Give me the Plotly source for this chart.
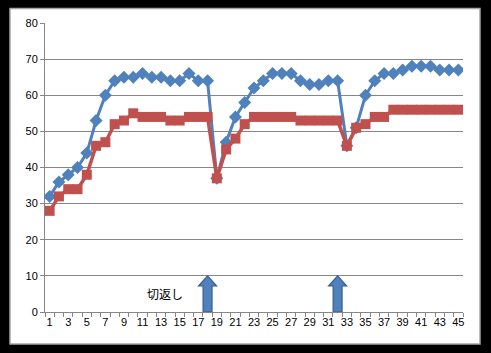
import plotly.graph_objects as go

categories = list(range(1, 46))
blue_values = [32, 36, 38, 40, 44, 53, 60, 64, 65, 65,
               66, 65, 65, 64, 64, 66, 64, 64, 37, 47,
               54, 58, 62, 64, 66, 66, 66, 64, 63, 63,
               64, 64, 46, 51, 60, 64, 66, 66, 67, 68,
               68, 68, 67, 67, 67]
red_values = [28, 32, 34, 34, 38, 46, 47, 52, 53, 55,
              54, 54, 54, 53, 53, 54, 54, 54, 37, 45,
              48, 52, 54, 54, 54, 54, 54, 53, 53, 53,
              53, 53, 46, 51, 52, 54, 54, 56, 56, 56,
              56, 56, 56, 56, 56]
tick_labels = [str(c) for c in categories[::2]]
arrow_x = [18, 32]
arrow_top = 10
note_text = "切返し"
note_x, note_y = 13.4, 5

W, H = 491, 353
ml, mr, mt, mb = 45, 28, 23, 41
pw, ph = W - ml - mr, H - mt - mb

fig = go.Figure()
fig.add_trace(go.Scatter(x=categories, y=blue_values, mode="lines+markers",
                         line=dict(color="#4F81BD", width=3),
                         marker=dict(symbol="diamond", size=10, color="#4F81BD"),
                         showlegend=False))
fig.add_trace(go.Scatter(x=categories, y=red_values, mode="lines+markers",
                         line=dict(color="#C0504D", width=3.5),
                         marker=dict(symbol="square", size=10, color="#C0504D"),
                         showlegend=False))

shapes = []
def px2paper_x(p):
    return (p - ml) / pw
def px2paper_y(p):
    return (H - mb - p) / ph
shapes.append(dict(type="rect", xref="paper", yref="paper", layer="below",
                   x0=px2paper_x(10), x1=px2paper_x(480),
                   y0=px2paper_y(344), y1=px2paper_y(8.5),
                   fillcolor="white", line=dict(color="#A6A6A6", width=1.5)))

head_hw, shaft_hw, head_h = 0.97, 0.48, 2.8
for ax in arrow_x:
    base = arrow_top - head_h
    path = (f"M {ax - shaft_hw} 0 L {ax - shaft_hw} {base} L {ax - head_hw} {base} "
            f"L {ax} {arrow_top} L {ax + head_hw} {base} L {ax + shaft_hw} {base} "
            f"L {ax + shaft_hw} 0 Z")
    shapes.append(dict(type="path", xref="x", yref="y", path=path,
                       fillcolor="#4F81BD", line=dict(color="#385D8A", width=1.2),
                       layer="above"))

fig.update_layout(
    width=W, height=H,
    margin=dict(l=ml, r=mr, t=mt, b=mb),
    paper_bgcolor="black",
    plot_bgcolor="rgba(0,0,0,0)",
    shapes=shapes,
    annotations=[dict(x=note_x, y=note_y, xref="x", yref="y", text=note_text,
                      showarrow=False,
                      font=dict(family="Noto Sans CJK JP", size=12, color="#000000"))],
    font=dict(family="Liberation Sans, Arial, sans-serif", size=11, color="#000000"),
)
fig.update_xaxes(range=[0.5, 45.5], tickmode="array",
                 tickvals=categories[::2], ticktext=tick_labels,
                 ticks="", showgrid=False, zeroline=False,
                 showline=True, linecolor="#868686", linewidth=1,
                 tickfont=dict(size=11, color="#000000"),
                 minor=dict(tickmode="linear", tick0=0.5, dtick=1, ticks="outside",
                            ticklen=4, tickcolor="#868686", showgrid=False))
fig.update_yaxes(range=[0, 80], tickmode="linear", tick0=0, dtick=10,
                 showgrid=True, gridcolor="#868686", gridwidth=1,
                 zeroline=False, showline=True, linecolor="#868686", linewidth=1,
                 ticks="outside", ticklen=4, tickcolor="#868686",
                 tickfont=dict(size=11, color="#000000"))

fig.write_html("out.html")
